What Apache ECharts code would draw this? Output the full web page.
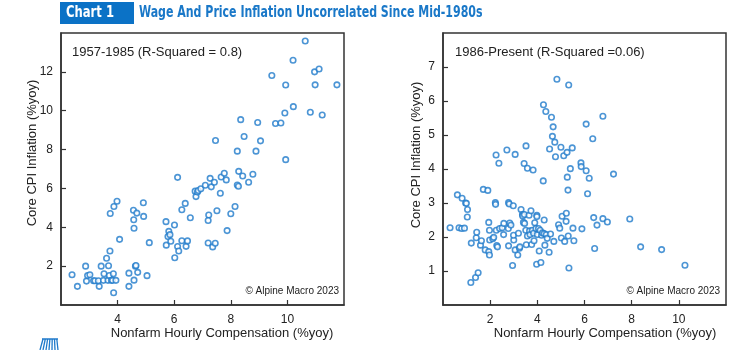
<!DOCTYPE html>
<html>
<head>
<meta charset="UTF-8">
<title>Wage And Price Inflation</title>
<script src="https://cdn.jsdelivr.net/npm/echarts@6/dist/echarts.min.js"></script>
<style>
  html, body { margin: 0; padding: 0; background: #fff; }
  #chart { width: 752px; height: 350px; }
</style>
</head>
<body>
<div id="chart"></div>
<script>
// 1957-1985 panel
const earlyWage = [2.39, 2.58, 2.87, 2.90, 2.94, 3.02, 3.15, 3.20, 3.32, 3.35, 3.42, 3.50, 3.52, 3.61, 3.68,
  3.66, 3.71, 3.73, 3.74, 3.78, 3.82, 3.85, 3.86, 3.87, 3.94, 3.98, 4.07, 4.40, 4.40, 4.56, 4.57, 4.58,
  4.58, 4.63, 4.65, 4.68, 4.71, 4.91, 4.92, 5.04, 5.12, 5.71, 5.72, 5.78, 5.81, 5.85, 5.88, 6.01, 6.02,
  6.12, 6.12, 6.16, 6.27, 6.27, 6.39, 6.42, 6.47, 6.57, 6.74, 6.77, 6.82, 6.85, 6.94, 7.10, 7.22, 7.20,
  7.20, 7.27, 7.31, 7.36, 7.42, 7.45, 7.46, 7.51, 7.63, 7.66, 7.77, 7.84, 7.87, 8.00, 8.15, 8.23, 8.23,
  8.27, 8.28, 8.35, 8.42, 8.47, 8.63, 8.78, 8.89, 8.95, 9.05, 9.45, 9.58, 9.77, 9.91, 9.94, 9.94, 10.20,
  10.21, 10.63, 10.81, 10.96, 10.98, 11.12, 11.23, 11.75];
const earlyCpi = [1.56, 0.96, 2.00, 1.23, 1.52, 1.56, 1.25, 1.25, 1.25, 0.96, 2.00, 1.27, 1.61, 2.41, 2.02,
  1.27, 1.52, 2.78, 4.71, 1.27, 1.27, 1.61, 0.63, 5.07, 1.27, 5.34, 3.38, 1.64, 0.96, 4.88, 4.39, 3.95,
  1.28, 2.00, 2.03, 4.73, 1.68, 5.26, 4.56, 1.51, 3.21, 4.29, 3.08, 3.52, 3.79, 3.62, 3.28, 4.12, 2.43,
  6.57, 3.01, 2.78, 4.90, 3.31, 5.23, 3.02, 3.30, 4.49, 5.86, 5.58, 5.82, 5.89, 5.98, 6.16, 4.63, 4.35,
  3.19, 6.52, 6.08, 2.99, 6.32, 3.18, 8.47, 4.85, 5.75, 6.59, 6.78, 6.44, 3.83, 4.70, 5.07, 7.92, 6.18,
  6.11, 6.88, 9.54, 6.64, 8.67, 6.32, 6.73, 7.92, 9.39, 8.45, 11.81, 9.34, 9.37, 9.88, 11.32, 7.48, 12.60,
  10.21, 13.59, 9.92, 12.00, 11.33, 12.15, 9.78, 11.33];

// 1986-present panel
const lateWage = [0.30, 0.61, 0.68, 0.81, 0.79, 0.91, 0.96, 0.99, 1.04, 1.03, 1.18, 1.20, 1.38, 1.41, 1.43,
  1.49, 1.59, 1.63, 1.71, 1.79, 1.90, 1.94, 1.94, 1.97, 1.97, 1.98, 2.11, 2.15, 2.22, 2.23, 2.25, 2.26,
  2.28, 2.31, 2.37, 2.40, 2.51, 2.57, 2.58, 2.71, 2.77, 2.78, 2.78, 2.81, 2.83, 2.88, 2.95, 2.98, 3.00,
  2.99, 3.06, 3.06, 3.17, 3.20, 3.24, 3.26, 3.31, 3.37, 3.38, 3.41, 3.44, 3.46, 3.45, 3.52, 3.51, 3.53,
  3.58, 3.58, 3.65, 3.67, 3.69, 3.73, 3.76, 3.79, 3.82, 3.84, 3.86, 3.89, 3.94, 3.97, 3.98, 3.98, 4.00,
  4.05, 4.08, 4.12, 4.15, 4.18, 4.22, 4.25, 4.26, 4.29, 4.29, 4.32, 4.36, 4.38, 4.42, 4.50, 4.52, 4.56,
  4.60, 4.64, 4.67, 4.70, 4.74, 4.77, 4.83, 4.90, 4.95, 5.00, 5.02, 5.05, 5.12, 5.16, 5.22, 5.23, 5.26,
  5.27, 5.30, 5.31, 5.33, 5.34, 5.40, 5.48, 5.51, 5.55, 5.85, 5.86, 5.89, 6.07, 6.07, 6.13, 6.20, 6.35,
  6.39, 6.43, 6.53, 6.78, 6.78, 6.97, 7.23, 7.92, 8.38, 9.27, 10.26];
const lateCpi = [2.27, 3.24, 2.27, 3.14, 2.25, 2.26, 3.00, 2.99, 2.81, 2.59, 0.66, 1.82, 0.81, 1.98, 2.14,
  0.95, 1.76, 1.89, 3.40, 1.62, 3.37, 2.43, 1.57, 1.47, 2.20, 1.91, 1.95, 1.99, 3.01, 2.96, 4.41, 2.20,
  1.75, 1.71, 4.17, 2.25, 2.27, 2.07, 2.40, 4.56, 2.25, 1.74, 3.01, 2.97, 2.41, 2.35, 1.16, 2.92, 1.91,
  2.05, 4.43, 1.62, 1.47, 2.11, 1.67, 1.71, 2.81, 2.66, 2.62, 2.43, 4.16, 2.40, 2.66, 4.68, 2.20, 1.77,
  2.03, 4.02, 2.64, 2.18, 2.07, 2.77, 1.78, 2.20, 3.97, 2.11, 1.89, 2.42, 2.25, 1.20, 2.64, 2.60, 2.07,
  2.25, 1.59, 2.20, 1.25, 2.05, 2.12, 3.65, 5.89, 2.50, 2.10, 1.76, 5.69, 2.07, 1.96, 1.55, 4.59, 2.09,
  5.52, 4.96, 5.24, 1.87, 4.79, 4.36, 6.64, 2.36, 2.26, 4.64, 1.97, 2.61, 4.39, 1.87, 2.46, 2.70, 4.49,
  3.76, 3.38, 2.03, 6.47, 1.09, 4.01, 4.62, 2.26, 1.89, 4.18, 4.07, 2.24, 3.95, 5.32, 3.27, 3.73, 4.89,
  2.57, 1.66, 2.35, 5.55, 2.54, 2.44, 3.85, 2.53, 1.71, 1.63, 1.17];

const earlyXTicks = [2, 12, 2];   // min, max, step
const earlyYTicks = [0, 14, 2];
const lateXTicks = [0, 12, 2];
const lateYTicks = [0, 8, 1];

const blue = "#1f7acb";
const axisColor = "#333";
const font = "Liberation Sans, Arial, sans-serif";
const headFont = "bold 15px DejaVu Sans Condensed, Liberation Sans, sans-serif";

function pairs(xs, ys) {
  return xs.map((x, i) => [x, ys[i]]);
}

function makeX(idx, t) {
  return {
    gridIndex: idx, type: "value", min: t[0], max: t[1], interval: t[2],
    axisLine: { show: true, lineStyle: { color: axisColor, width: 1.5 } },
    axisTick: { show: true, inside: true, length: 5, lineStyle: { color: axisColor, width: 1.2 } },
    axisLabel: { showMinLabel: false, showMaxLabel: false, color: "#222", fontSize: 12, fontFamily: font, margin: 9 },
    splitLine: { show: false },
  };
}

function makeY(idx, t) {
  return {
    gridIndex: idx, type: "value", min: t[0], max: t[1], interval: t[2],
    axisLine: { show: true, lineStyle: { color: axisColor, width: 1.5 } },
    axisTick: { show: true, inside: true, length: 5, lineStyle: { color: axisColor, width: 1.2 } },
    axisLabel: { showMinLabel: false, showMaxLabel: false, color: "#222", fontSize: 12, fontFamily: font, margin: 8 },
    splitLine: { show: false },
  };
}

function scatter(idx, data) {
  return {
    type: "scatter", xAxisIndex: idx, yAxisIndex: idx, data: data,
    symbol: "circle", symbolSize: 5.5,
    itemStyle: { color: "#fff", borderColor: blue, borderWidth: 1.6 },
    silent: true,
  };
}

function txt(x, y, s, size, extra) {
  return {
    type: "text", x: x, y: y, silent: true,
    style: Object.assign({ text: s, fill: "#222", font: size + "px " + font }, extra || {}),
  };
}

const chart = echarts.init(document.getElementById("chart"));

// logo: little striped fan at bottom left
const logo = [];
for (let i = 0; i < 7; i++) {
  logo.push({
    type: "line", silent: true,
    shape: { x1: 40 + i * 3, y1: 350, x2: 43 + i * 2.3, y2: 339 },
    style: { stroke: blue, lineWidth: 1.3 },
  });
}
logo.push({ type: "line", silent: true, shape: { x1: 42, y1: 339, x2: 58, y2: 339 }, style: { stroke: blue, lineWidth: 1.5 } });

const head1 = txt(66, 13, "Chart 1", 15, { fill: "#fff", font: headFont, verticalAlign: "middle" });
head1.scaleX = 0.86;
const head2 = txt(139, 13, "Wage And Price Inflation Uncorrelated Since Mid-1980s", 15, { fill: "#1a78c8", font: headFont, verticalAlign: "middle" });
head2.scaleX = 0.815;

const yName1 = txt(32, 153, "Core CPI Inflation (%yoy)", 13, { align: "center", verticalAlign: "middle" });
yName1.rotation = Math.PI / 2;
const yName2 = txt(416, 155, "Core CPI Inflation (%yoy)", 13, { align: "center", verticalAlign: "middle" });
yName2.rotation = Math.PI / 2;

chart.setOption({
  animation: false,
  backgroundColor: "#fff",
  grid: [
    { left: 61, top: 33, width: 283, height: 272, show: true, borderColor: axisColor, borderWidth: 1.5, backgroundColor: "transparent" },
    { left: 443, top: 33, width: 283, height: 272, show: true, borderColor: axisColor, borderWidth: 1.5, backgroundColor: "transparent" },
  ],
  xAxis: [makeX(0, earlyXTicks), makeX(1, lateXTicks)],
  yAxis: [makeY(0, earlyYTicks), makeY(1, lateYTicks)],
  series: [scatter(0, pairs(earlyWage, earlyCpi)), scatter(1, pairs(lateWage, lateCpi))],
  graphic: [
    { type: "rect", silent: true, shape: { x: 60, y: 2, width: 74, height: 22 }, style: { fill: "#0b72c6" } },
    head1,
    head2,
    txt(72, 52, "1957-1985 (R-Squared = 0.8)", 13, { verticalAlign: "middle" }),
    txt(455, 52, "1986-Present (R-Squared =0.06)", 13, { verticalAlign: "middle" }),
    txt(339, 291, "\u00a9 Alpine Macro 2023", 10, { align: "right", verticalAlign: "middle" }),
    txt(720, 291, "\u00a9 Alpine Macro 2023", 10, { align: "right", verticalAlign: "middle" }),
    txt(222, 333, "Nonfarm Hourly Compensation (%yoy)", 13, { align: "center", verticalAlign: "middle" }),
    txt(605, 333, "Nonfarm Hourly Compensation (%yoy)", 13, { align: "center", verticalAlign: "middle" }),
    yName1,
    yName2,
  ].concat(logo),
});
</script>
</body>
</html>
